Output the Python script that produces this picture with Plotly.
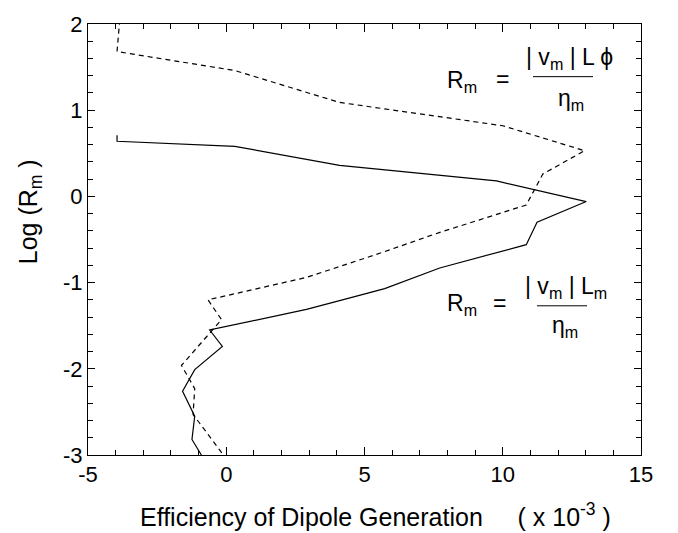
import plotly.graph_objects as go

# Solid curve: R_m = |v_m| L_m / eta_m
solid_eff = [-3.95, -3.95, 0.31, 4.1, 9.77, 13.02, 11.24, 10.85, 7.72, 5.73, 4.1, 2.9, -0.60, -0.14, -1.14, -1.58, -1.14, -1.24, -0.90]
solid_logrm = [0.71, 0.64, 0.58, 0.36, 0.18, -0.06, -0.30, -0.56, -0.83, -1.07, -1.21, -1.31, -1.55, -1.74, -2.01, -2.26, -2.55, -2.82, -3.0]

# Dashed curve: R_m = |v_m| L_phi / eta_m
dash_eff = [-3.85, -3.95, 0.31, 4.1, 10.0, 12.96, 11.45, 10.85, 7.7, 5.55, 2.9, -0.66, -0.17, -1.62, -1.14, -1.20, -0.10]
dash_logrm = [2.05, 1.68, 1.46, 1.09, 0.82, 0.53, 0.26, -0.10, -0.42, -0.66, -0.94, -1.20, -1.43, -1.96, -2.23, -2.53, -3.0]

x_ticks = [-5, 0, 5, 10, 15]
x_labels = ["-5", "0", "5", "10", "15"]
y_ticks = [-3, -2, -1, 0, 1, 2]
y_labels = ["-3", "-2", "-1", "0", "1", "2"]

FONT = "Liberation Sans, Arial, Helvetica, sans-serif"
W, H = 678, 533
L, R, T, B = 88, 37, 13, 78
PW, PH = W - L - R, H - T - B


def px(x):
    return (x - L) / PW


def py(y):
    return (H - B - y) / PH


fig = go.Figure()
fig.add_trace(go.Scatter(x=solid_eff, y=solid_logrm, mode="lines",
                         line=dict(color="black", width=1.2), showlegend=False))
fig.add_trace(go.Scatter(x=dash_eff, y=dash_logrm, mode="lines",
                         line=dict(color="black", width=1.2, dash="5px,4px"), showlegend=False))

axis_common = dict(showgrid=False, zeroline=False, showline=True, linecolor="black", linewidth=1,
                   mirror="ticks", ticks="inside", tickcolor="black",
                   tickfont=dict(family=FONT, size=22, color="black"))

fig.update_xaxes(range=[-5, 15], tickvals=x_ticks, ticktext=x_labels, ticklen=8,
                 minor=dict(dtick=1, ticks="inside", ticklen=5, tickcolor="black"),
                 **axis_common)
fig.update_yaxes(range=[-3, 2], tickvals=y_ticks, ticktext=y_labels, ticklen=7,
                 minor=dict(dtick=0.2, ticks="inside", ticklen=5, tickcolor="black"),
                 **axis_common)

f = dict(family=FONT, size=23, color="black")
ft = dict(family=FONT, size=25, color="black")
ann = [
    dict(text="Efficiency of Dipole Generation&nbsp;&nbsp;&nbsp;&nbsp;&nbsp;( x 10<sup>-3</sup> )", x=px(375), y=py(517),
         xanchor="center", yanchor="middle", font=ft),
    dict(text="Log (R<sub>m</sub> )", x=px(30), y=py(206), textangle=-90,
         xanchor="center", yanchor="middle", font=ft),
    # top formula
    dict(text="R<sub>m</sub>", x=px(445), y=py(72), xanchor="left", yanchor="middle", font=f),
    dict(text="=", x=px(502), y=py(69), xanchor="center", yanchor="middle", font=f),
    dict(text="| v<sub>m</sub> | L ϕ", x=px(569), y=py(48), xanchor="center", yanchor="middle", font=f),
    dict(text="η<sub>m</sub>", x=px(571), y=py(90), xanchor="center", yanchor="middle", font=f),
    # bottom formula
    dict(text="R<sub>m</sub>", x=px(445), y=py(301), xanchor="left", yanchor="middle", font=f),
    dict(text="=", x=px(499), y=py(299), xanchor="center", yanchor="middle", font=f),
    dict(text="| v<sub>m</sub> | L<sub>m</sub>", x=px(566), y=py(283), xanchor="center", yanchor="middle", font=f),
    dict(text="η<sub>m</sub>", x=px(565), y=py(323), xanchor="center", yanchor="middle", font=f),
]
for a in ann:
    a.update(xref="paper", yref="paper", showarrow=False)

shapes = [
    dict(type="line", xref="paper", yref="paper", x0=px(533), x1=px(593), y0=py(67), y1=py(67),
         line=dict(color="black", width=1)),
    dict(type="line", xref="paper", yref="paper", x0=px(537), x1=px(587), y0=py(302), y1=py(302),
         line=dict(color="black", width=1)),
]

fig.update_layout(width=W, height=H, margin=dict(l=L, r=R, t=T, b=B, pad=0),
                  paper_bgcolor="white", plot_bgcolor="white",
                  annotations=ann, shapes=shapes, font=dict(family=FONT, size=22, color="black"))

fig.write_html("out.html")
